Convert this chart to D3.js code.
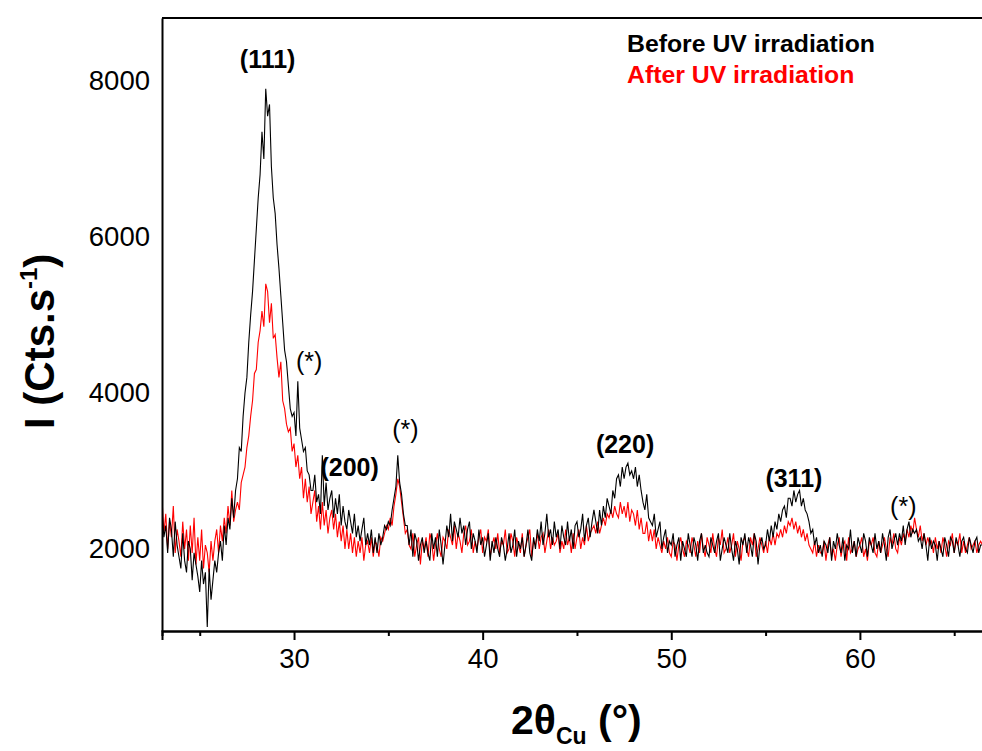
<!DOCTYPE html>
<html>
<head>
<meta charset="utf-8">
<script src="https://cdn.jsdelivr.net/npm/d3@7"></script>
<style>
body { margin: 0; background: #fff; }
text { font-family: "Liberation Sans", Arial, sans-serif; }
</style>
</head>
<body>
<svg></svg>
<script>
// 2theta sampling of both scans (degrees)
var thetaStart = 23.0;
var thetaStep = 0.1;

// counts per second, before UV irradiation (black), 23.0 -> 66.5
var beforeUV = [
 2500,2150,2300,1950,2400,2250,1900,2350,2050,1900,
 1750,2200,1850,1700,2100,2000,1600,1950,1800,1650,
 1450,1850,1550,1700,1000,1750,1350,1600,1850,1700,
 1950,2100,1850,2300,2050,2400,2250,2650,2400,2750,
 2900,3300,3250,3700,4000,4200,4650,5000,5300,5700,
 6100,6500,6800,7350,7000,7900,7550,7700,6900,6500,
 6300,5900,5600,5250,4900,4550,4400,4100,3800,3700,
 3750,3450,4150,3550,3400,3250,3300,3000,2950,2750,
 2750,2950,2600,2700,2450,3200,2550,2850,2500,2650,
 2750,2400,2650,2450,2700,2300,2550,2350,2250,2500,
 2350,2200,2450,2150,2300,2100,2250,2400,2050,2200,
 2050,2250,1950,2150,1950,2200,2050,2150,2300,2250,
 2350,2300,2500,2650,2800,3200,2850,2700,2450,2300,
 2300,2050,2250,1900,2200,2100,1850,2050,2150,1950,
 2100,1950,1850,2200,2000,2150,1900,2250,2050,1800,
 2050,2300,2150,2450,2100,2350,2250,2150,2400,2200,
 2300,2050,2250,2350,2000,2200,2100,1950,2250,2050,
 2150,1900,2050,2200,1850,2100,1950,2150,2000,1900,
 2150,2050,1850,2000,2200,1950,2050,2250,1900,2100,
 2000,2150,1900,2050,2250,1950,1850,2150,2000,2250,
 2100,2350,2050,2200,2450,2150,2250,2050,2350,2150,
 2250,2000,2300,2150,2050,2350,2100,2250,2000,2300,
 2350,2150,2250,2450,2100,2300,2400,2150,2350,2500,
 2350,2200,2500,2300,2550,2400,2650,2550,2450,2750,
 2650,2900,2950,2800,3050,2900,3050,3100,2950,3000,
 2900,3050,2800,2950,2750,2600,2500,2700,2400,2350,
 2300,2450,2150,2250,2350,2000,2150,2250,1950,2100,
 2050,2200,1900,2050,2150,1850,2100,2000,1900,2200,
 2050,1900,2150,2050,1850,2100,2200,1950,2050,1950,
 1900,2150,2050,1950,2100,2200,1850,2000,2150,2050,
 1950,2200,2000,1850,2100,2000,1800,2150,2050,2200,
 1950,2150,2050,1900,2200,2100,1800,2050,2150,2000,
 2050,2250,2100,2300,2150,2350,2250,2450,2350,2500,
 2550,2400,2650,2650,2550,2750,2600,2700,2750,2550,
 2650,2500,2450,2350,2200,2250,2050,2150,1950,2050,
 1900,2100,2050,1950,2150,1850,2100,2000,2200,2050,
 1950,2150,1850,2050,2000,2250,1950,2100,1900,2150,
 2050,1950,2200,2100,1900,2150,2050,1950,2200,2000,
 2100,1950,2200,2050,1850,2150,2250,2000,2100,2200,
 2050,2200,2100,2300,2050,2250,2350,2150,2250,2200,
 2250,2100,2150,2000,2200,2050,1850,2150,2000,2100,
 2050,1850,2100,2000,1900,2150,2050,1900,2150,2100,
 1950,2150,2050,1900,2100,2150,2000,1950,2150,2050,
 1950,2100,2150,1950,2050,2050
];

// counts per second, after UV irradiation (red), 23.0 -> 66.5
var afterUV = [
 2650,2200,2450,2000,2350,2150,2550,1950,2250,2100,
 1900,2350,2000,2250,1850,2300,1950,2400,1800,2150,
 1850,2250,1750,2050,1950,1700,2100,1850,2100,2250,
 1950,2300,2100,2400,2200,2550,2300,2750,2350,2500,
 2600,2500,2850,2950,3050,3300,3450,3700,3900,4250,
 4300,4650,4800,5050,4850,5400,5300,4900,5150,4700,
 4750,4450,4200,4400,3900,3800,3600,3500,3550,3250,
 3350,3050,3200,2900,3050,2650,2900,2600,2800,2450,
 2600,2750,2350,2550,2250,2600,2300,2500,2200,2400,
 2500,2250,2450,2150,2350,2100,2300,2000,2250,2000,
 2200,1950,2150,1900,2100,1950,2150,1850,2050,2100,
 1950,2150,1900,2100,2050,1900,2150,2100,2200,2300,
 2250,2400,2300,2550,2700,2900,2800,2600,2400,2200,
 2250,2050,2000,2200,1900,2050,2150,1800,2100,2000,
 2150,1900,2200,2100,1850,2050,2200,2000,1900,2150,
 2100,2000,2250,2150,2050,2300,2000,2200,2100,1950,
 2200,2300,2050,2100,2250,1950,2100,2000,2150,2250,
 1950,2150,2100,2250,1900,2050,2150,2000,2200,1950,
 2100,2050,2250,1950,2000,2200,2100,1900,2150,2050,
 1950,2200,1900,2050,2150,2250,1900,2100,2050,2200,
 2000,2150,2200,1950,2100,2250,2000,2150,2050,2100,
 2200,1950,2100,2000,2250,2050,2150,1950,2200,2000,
 2150,2250,2000,2150,2050,2300,2100,2200,2250,2300,
 2200,2350,2200,2300,2400,2300,2450,2400,2500,2400,
 2550,2450,2400,2600,2450,2550,2400,2600,2350,2500,
 2450,2300,2500,2250,2400,2200,2200,2350,2100,2250,
 2100,2250,2000,2150,2050,1950,2100,2000,2150,1950,
 1900,2100,2050,1850,2050,2150,2000,1900,2100,2050,
 1950,2150,2050,1900,2100,1950,2200,2000,1900,2150,
 2050,1950,2200,2000,1900,2150,2050,2250,1950,2000,
 2150,1950,2050,2200,1900,2100,2000,1850,2100,2150,
 2000,1900,2150,2050,2200,1900,2000,2150,2050,1950,
 2100,1950,2150,2050,2200,2050,2200,2150,2250,2150,
 2300,2200,2350,2300,2400,2250,2350,2200,2300,2150,
 2250,2100,2200,2050,2000,1950,2100,1900,2050,1950,
 1950,2100,1850,2050,2150,1900,2000,1850,2050,2150,
 1900,2050,2100,1850,2150,1950,2000,2100,1900,2000,
 2050,2150,1900,2000,1850,2100,2050,2150,1950,1900,
 2100,1950,2050,2150,2000,1900,2150,2050,2200,2000,
 1950,2150,2050,2200,2100,2250,2150,2300,2200,2400,
 2250,2150,2300,2100,2200,2050,2150,2050,2100,1950,
 2150,2000,2100,1950,2150,2050,1900,2100,2050,2200,
 1950,2100,2050,2200,1950,2100,1950,2050,2150,2000,
 2050,2100,1950,2050,2100,2050
];

var xTicks = [30, 40, 50, 60];
var xMinorTicks = [25, 35, 45, 55, 65];
var yTicks = [2000, 4000, 6000, 8000];

var legendLabels = ["Before UV irradiation", "After UV irradiation"];

// peak indexing, [2theta, intensity at label baseline, text, bold]
var peakLabels = [
  [28.6, 8170, "(111)", true],
  [32.95, 2940, "(200)", true],
  [47.55, 3230, "(220)", true],
  [56.5, 2790, "(311)", true],
  [30.8, 4300, "(*)", false],
  [35.9, 3420, "(*)", false],
  [62.3, 2440, "(*)", false]
];

var screen = {width: 982, height: 751};
var margins = {top: 18, right: 0, bottom: 120, left: 162};
var width = 820.5;
var height = 613;

var svg = d3.select("svg")
    .attr("width", screen.width)
    .attr("height", screen.height);

var xScale = d3.scaleLinear()
    .domain([23, 66.5])
    .range([0, width]);

var yScale = d3.scaleLinear()
    .domain([948, 8808])
    .range([height, 0]);

var graph = svg.append("g")
    .attr("id", "graph")
    .attr("transform", "translate(" + margins.left + "," + margins.top + ")");

graph.append("clipPath")
    .attr("id", "plotclip")
    .append("rect")
    .attr("x", 0).attr("y", 0)
    .attr("width", width).attr("height", height);

var line = d3.line()
    .x(function(d, i) { return xScale(thetaStart + i * thetaStep); })
    .y(function(d) { return yScale(d); });

var plot = graph.append("g").attr("clip-path", "url(#plotclip)");

plot.append("path")
    .datum(afterUV)
    .attr("d", line)
    .attr("fill", "none")
    .attr("stroke", "#ff0000")
    .attr("stroke-width", 1.1);

plot.append("path")
    .datum(beforeUV)
    .attr("d", line)
    .attr("fill", "none")
    .attr("stroke", "#000000")
    .attr("stroke-width", 1.1);

// axes
var xAxis = d3.axisBottom(xScale)
    .tickValues(xTicks)
    .tickSize(9)
    .tickPadding(8)
    .tickFormat(d3.format("d"));

var xMinor = d3.axisBottom(xScale)
    .tickValues(xMinorTicks)
    .tickSize(5)
    .tickFormat("");

var yAxis = d3.axisLeft(yScale)
    .tickValues(yTicks)
    .tickSize(0)
    .tickPadding(12)
    .tickFormat(d3.format("d"));

graph.append("g")
    .attr("id", "xMinor")
    .attr("transform", "translate(0," + height + ")")
    .call(xMinor);

graph.append("g")
    .attr("id", "xAxis")
    .attr("transform", "translate(0," + height + ")")
    .call(xAxis);

graph.append("g")
    .attr("id", "yAxis")
    .call(yAxis);

graph.selectAll(".domain")
    .attr("stroke", "#000")
    .attr("stroke-width", 2);
graph.selectAll(".tick line")
    .attr("stroke", "#000")
    .attr("stroke-width", 2);
graph.selectAll(".tick text")
    .attr("fill", "#000")
    .style("font-size", "27.5px");

// top frame
graph.append("line")
    .attr("x1", 0).attr("x2", width + 2)
    .attr("y1", 0).attr("y2", 0)
    .attr("stroke", "#000")
    .attr("stroke-width", 2);

// axis titles
var xTitle = svg.append("text")
    .attr("x", 511)
    .attr("y", 734)
    .style("font-size", "41px")
    .style("font-weight", "bold");
xTitle.append("tspan").text("2θ");
xTitle.append("tspan").attr("dy", 10).style("font-size", "23px").text("Cu");
xTitle.append("tspan").attr("dy", -10).text(" (°)");

var yTitle = svg.append("text")
    .attr("transform", "translate(54,429) rotate(-90)")
    .style("font-size", "42px")
    .style("font-weight", "bold");
yTitle.append("tspan").text("I (Cts.s");
yTitle.append("tspan").attr("dy", -17).style("font-size", "24px").text("-1");
yTitle.append("tspan").attr("dy", 17).text(")");

// legend
svg.selectAll(".legend")
    .data(legendLabels)
    .enter()
    .append("text")
    .attr("class", "legend")
    .attr("x", 627)
    .attr("y", function(d, i) { return 52 + i * 31; })
    .attr("fill", function(d, i) { return i == 0 ? "#000" : "#ff0000"; })
    .style("font-size", "24.8px")
    .style("font-weight", "bold")
    .text(function(d) { return d; });

// peak labels
graph.selectAll(".peak")
    .data(peakLabels)
    .enter()
    .append("text")
    .attr("class", "peak")
    .attr("x", function(d) { return xScale(d[0]); })
    .attr("y", function(d) { return yScale(d[1]); })
    .attr("text-anchor", "middle")
    .style("font-size", "25px")
    .style("font-weight", function(d) { return d[3] ? "bold" : "normal"; })
    .text(function(d) { return d[2]; });
</script>
</body>
</html>
